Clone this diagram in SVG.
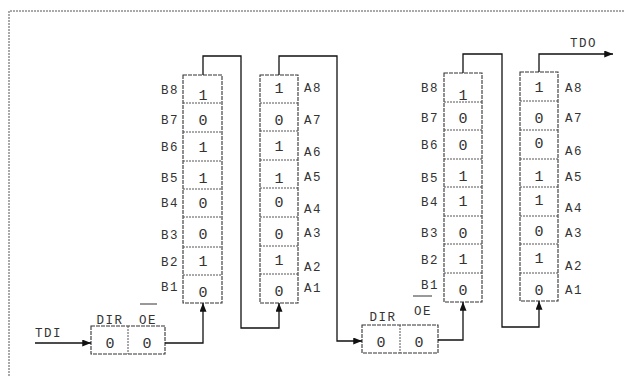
<svg xmlns="http://www.w3.org/2000/svg" width="625" height="376" viewBox="0 0 625 376">
<defs>
<marker id="ah" viewBox="0 0 10 8" refX="10" refY="4" markerWidth="9" markerHeight="7" markerUnits="userSpaceOnUse" orient="auto">
<path d="M0,0 L10,4 L0,8 Z" fill="#111"/>
</marker>
</defs>
<style>
.frame{fill:none;stroke:#555;stroke-width:1;stroke-dasharray:2 1}
.box{fill:#fff;stroke:#333;stroke-width:1.1;stroke-dasharray:4 1}
.div{stroke:#555;stroke-width:1;stroke-dasharray:2 1}
.wire{fill:none;stroke:#111;stroke-width:1.3}
.lbl{font-family:"Liberation Mono","DejaVu Sans Mono",monospace;font-size:12.5px;fill:#333;letter-spacing:1.5px}
.val{font-family:"Liberation Mono","DejaVu Sans Mono",monospace;font-size:15px;fill:#333;text-anchor:middle}
.ovl{stroke:#333;stroke-width:1}
</style>
<rect width="625" height="376" fill="#fff"/>
<path class="frame" d="M9,376 V11 H625"/>

<g id="colB1">
<rect class="box" x="183" y="75" width="39" height="228"/>
<path class="div" d="M183,103H222M183,132H222M183,161H222M183,189H222M183,217H222M183,247H222M183,275H222"/>
<g class="val"><text x="203" y="100">1</text><text x="203" y="125">0</text><text x="203" y="152">1</text><text x="203" y="183">1</text><text x="203" y="208">0</text><text x="203" y="239">0</text><text x="203" y="266">1</text><text x="203" y="297">0</text></g>
<g class="lbl" text-anchor="end"><text x="179" y="94">B8</text><text x="179" y="124">B7</text><text x="179" y="151">B6</text><text x="179" y="182">B5</text><text x="179" y="207">B4</text><text x="179" y="239">B3</text><text x="179" y="266">B2</text><text x="179" y="291">B1</text></g>
</g>

<g id="colA1">
<rect class="box" x="260" y="75" width="38" height="228"/>
<path class="div" d="M260,103H298M260,131H298M260,160H298M260,188H298M260,217H298M260,246H298M260,274H298"/>
<g class="val"><text x="279" y="93">1</text><text x="279" y="125">0</text><text x="279" y="151">1</text><text x="279" y="183">1</text><text x="279" y="207">0</text><text x="279" y="239">0</text><text x="279" y="265">1</text><text x="279" y="296">0</text></g>
<g class="lbl"><text x="304" y="92">A8</text><text x="304" y="124">A7</text><text x="304" y="156">A6</text><text x="304" y="181">A5</text><text x="304" y="213">A4</text><text x="304" y="237">A3</text><text x="304" y="271">A2</text><text x="304" y="292">A1</text></g>
</g>

<g id="reg1">
<rect class="box" x="91" y="326" width="74" height="28"/>
<path class="div" d="M128,326V354"/>
<g class="val"><text x="110" y="348">0</text><text x="147" y="348">0</text></g>
<g class="lbl" text-anchor="middle"><text x="110" y="324">DIR</text><text x="148" y="324">OE</text></g>
<path class="ovl" d="M140,304H157"/>
</g>

<g id="colB2">
<rect class="box" x="444" y="73" width="38" height="229"/>
<path class="div" d="M444,102H482M444,130H482M444,159H482M444,187H482M444,216H482M444,244H482M444,273H482"/>
<g class="val"><text x="463" y="100">1</text><text x="463" y="123">0</text><text x="463" y="150">0</text><text x="463" y="181">1</text><text x="463" y="206">1</text><text x="463" y="238">0</text><text x="463" y="264">1</text><text x="463" y="295">0</text></g>
<g class="lbl" text-anchor="end"><text x="439" y="92">B8</text><text x="439" y="122">B7</text><text x="439" y="149">B6</text><text x="439" y="182">B5</text><text x="439" y="206">B4</text><text x="439" y="237">B3</text><text x="439" y="264">B2</text><text x="439" y="289">B1</text></g>
</g>

<g id="colA2">
<rect class="box" x="520" y="72" width="38" height="229"/>
<path class="div" d="M520,101H558M520,130H558M520,159H558M520,187H558M520,216H558M520,244H558M520,273H558"/>
<g class="val"><text x="539" y="92">1</text><text x="539" y="123">0</text><text x="539" y="148">0</text><text x="539" y="181">1</text><text x="539" y="205">1</text><text x="539" y="236">0</text><text x="539" y="263">1</text><text x="539" y="295">0</text></g>
<g class="lbl"><text x="565" y="92">A8</text><text x="565" y="122">A7</text><text x="565" y="155">A6</text><text x="565" y="181">A5</text><text x="565" y="212">A4</text><text x="565" y="237">A3</text><text x="565" y="270">A2</text><text x="565" y="294">A1</text></g>
</g>

<g id="reg2">
<rect class="box" x="362" y="325" width="76" height="28"/>
<path class="div" d="M400,325V353"/>
<g class="val"><text x="381" y="347">0</text><text x="419" y="347">0</text></g>
<g class="lbl" text-anchor="middle"><text x="383" y="321">DIR</text><text x="423" y="315">OE</text></g>
<path class="ovl" d="M413,296H432"/>
</g>

<g class="lbl" id="io"><text x="35" y="337">TDI</text><text x="570" y="47">TDO</text></g>

<g id="connectors">
<path class="wire" marker-end="url(#ah)" d="M35,343H91"/>
<path class="wire" marker-end="url(#ah)" d="M165,343H203V303"/>
<path class="wire" marker-end="url(#ah)" d="M203,75V56H241V328H279V303"/>
<path class="wire" marker-end="url(#ah)" d="M279,75V56H337V341H362"/>
<path class="wire" marker-end="url(#ah)" d="M438,340H463V302"/>
<path class="wire" marker-end="url(#ah)" d="M463,73V54H502V327H539V301"/>
<path class="wire" marker-end="url(#ah)" d="M539,72V54H613"/>
</g>
</svg>
